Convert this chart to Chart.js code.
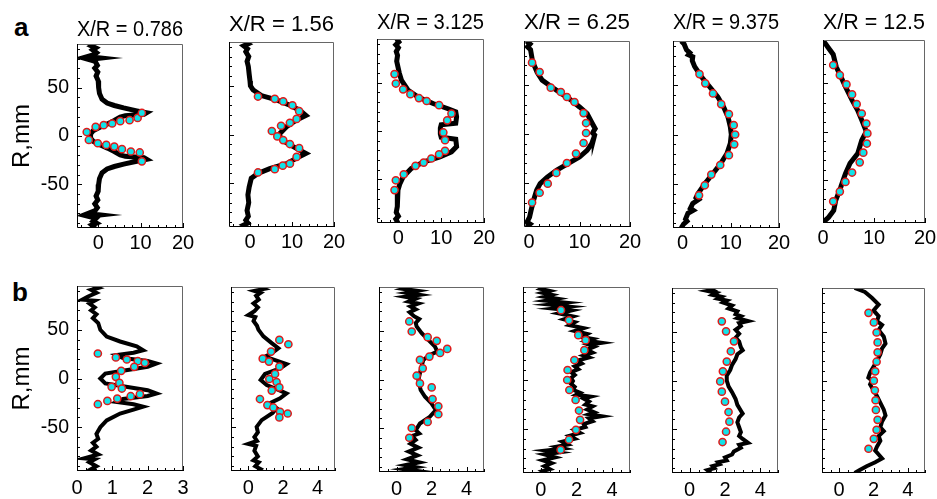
<!DOCTYPE html>
<html><head><meta charset="utf-8">
<script src="https://cdn.jsdelivr.net/npm/chart.js@4"></script>
<style>
html,body{margin:0;padding:0;background:#fff;width:937px;height:499px;overflow:hidden;position:relative;}
canvas{position:absolute;}
.lbl{position:absolute;font:bold 26px "Liberation Sans",Arial,sans-serif;line-height:26px;color:#000;}
</style></head><body>
<div class="lbl" style="left:14px;top:14px">a</div>
<div class="lbl" style="left:12px;top:279px">b</div>
<script>
// ---------- DATA ----------
const titles = ['X/R = 0.786','X/R = 1.56','X/R = 3.125','X/R = 6.25','X/R = 9.375','X/R = 12.5'];
const yTicks = [-50, 0, 50];
const xTicksTop = [0, 10, 20];
const xTicksB1 = [0, 1, 2, 3];
const xTicksBot = [0, 2, 4];

// row a : [x, R]
const lineA1 = [[-0.9,95],[-1.6,93],[-0.6,91],[-1.3,89],[-0.4,86],[-1.0,84],[-2.6,82],[0.6,80.5],[-2.3,79],[-0.7,77],[-0.2,73],[-0.8,70],[-0.1,66],[-0.5,62],[0,57],[0.1,50],[0.3,44],[0.9,38],[2.1,34],[3.8,31.5],[6,29],[9.1,26],[11.4,24],[10.8,22.5],[6.4,21],[5.2,19.5],[3.8,16],[2.2,12.5],[0.4,9],[-1.2,5.5],[-1.8,2],[-1.8,-2],[-1.2,-5.5],[0.4,-9],[2.2,-12.5],[3.8,-16],[5.2,-19.5],[6.4,-21],[10.8,-22.5],[11.4,-24],[9.1,-26],[6,-29],[3.8,-31.5],[2.1,-34],[0.9,-38],[0.3,-44],[0.1,-50],[0,-57],[-0.5,-62],[-0.1,-66],[-0.8,-70],[-0.2,-74],[-0.7,-77],[-2.4,-80],[0.6,-81.5],[-2.3,-83],[-0.5,-85],[-1.2,-88],[-0.4,-90],[-1.5,-92],[-0.7,-95]];
const dotsA1 = [[-2.7,4.1],[-0.6,9.5],[1.3,11.2],[3.3,12.9],[5.2,15.3],[7.4,16.3],[9.3,18.7],[10.3,23.8],[-2.2,-4.1],[-0.1,-7.5],[1.9,-9.2],[3.8,-10.9],[5.6,-13.6],[7.7,-16],[9.8,-17],[10.3,-26.2]];
const lineA2 = [[-1.3,95],[-0.5,93],[-1.5,91],[-0.6,88],[-1,85],[-0.3,80],[-0.7,75],[-0.4,70],[-0.2,62],[0,55],[0.1,50],[0.7,46],[2.7,40],[6.3,35.5],[9.5,30],[11.8,25],[13.3,19.5],[11.1,15],[8.7,8],[6.9,0],[7.7,-6],[10.3,-12.5],[13.3,-19.5],[11,-24.5],[8.7,-30],[4.7,-35],[1.9,-40],[0.3,-45],[-0.2,-54],[-0.5,-62],[-0.3,-70],[-0.7,-78],[-0.4,-84],[-1,-88],[-0.5,-91],[-1.5,-93],[-0.8,-95]];
const dotsA2 = [[1.9,39],[5.9,36.6],[7.9,34],[10.1,30],[11.7,24],[11.1,16],[9.5,12],[7.4,9],[5.2,3.6],[6.5,-2],[7.9,-5.7],[9.5,-9.8],[11.7,-14],[11.1,-23],[9.5,-30],[7.8,-32],[5.9,-35.6],[1.9,-39]];
const lineA3 = [[-0.4,95],[0.1,92],[-0.6,89],[0,86],[-0.5,82],[-0.2,78],[-0.4,72],[-0.1,66],[0.2,60],[0.7,52.6],[2.3,42],[4.6,35],[8.1,28.4],[11.6,23],[13.4,19.8],[13.6,14.6],[13.4,8],[10,6.5],[9.8,3],[9.8,-3],[10,-6.5],[13.4,-8.5],[13.6,-16],[12.4,-21.5],[9.7,-26.7],[5.8,-32],[3,-38.8],[1.1,-47.4],[0.3,-55],[-0.1,-61],[-0.3,-70],[-0.2,-78],[-0.5,-84],[0,-88],[-0.6,-91],[-0.1,-95]];
const dotsA3 = [[-0.9,58.8],[-0.6,49],[1.1,43],[2.8,38],[4.8,34],[6.6,31],[9.5,26.7],[12.4,18],[11.4,11],[10.5,-1.5],[10.9,-9.5],[10.9,-20.5],[9.5,-24],[7.7,-28.4],[5.9,-32.6],[4,-36],[1.25,-44.7],[-0.6,-50.9],[-0.9,-61]];
const lineA4 = [[-0.5,95],[0.2,92],[-0.3,89],[0.3,86],[0.5,80],[0.7,74],[1.6,63],[2.6,55],[4.5,48],[6.5,41],[8.5,34],[10,27.6],[11.5,20.8],[12.4,12],[13.1,5.4],[12.8,3],[12.6,1],[13,-1],[12.9,-3],[12.4,-10],[11.5,-16.7],[10,-23.5],[7.8,-30],[5.5,-37],[3.6,-44],[2.2,-50.7],[1.5,-57.5],[0.9,-67.7],[0.4,-78],[0.1,-85],[-0.4,-90],[0.2,-92],[-0.5,-95]];
const dotsA4 = [[0.6,72.9],[2.1,63.3],[4.3,47.3],[6.3,42.9],[7.5,37.8],[9,32.7],[10.8,21.4],[11.3,11.2],[11.3,1],[10.8,-9.2],[9.3,-20],[7.5,-29.6],[5.4,-39.8],[3.7,-50.7],[2.1,-60],[0.6,-70]];
const lineA5 = [[-0.3,95],[0.3,92],[0.8,86],[1.5,83],[1.2,81],[2.1,79],[2,75],[2.5,69],[3.9,58.7],[5.6,48.5],[7.3,38.3],[8.5,28],[9.4,18],[9.9,7.8],[10.1,0],[9.9,-9],[9.2,-19.3],[7.9,-29.5],[6.3,-39.7],[4.6,-50],[3.2,-60],[2.8,-64],[3.3,-66],[2.1,-70],[1.6,-75],[2.2,-77],[1.1,-80],[0.6,-86],[0.9,-88],[0.2,-91],[-0.3,-95]];
const dotsA5 = [[3.5,61.4],[4.7,52],[6.3,41.7],[8,30.9],[9.6,20.7],[10.6,9.5],[10.9,0],[10.7,-10],[9.6,-21],[7.8,-31],[5.95,-40.7],[4.6,-51.6],[3.4,-61.8]];
const lineA6 = [[0.1,94],[0.9,88],[2,80],[2.6,67],[3.5,57],[4.4,46.5],[5.7,32.6],[6.8,22],[7.6,11.8],[8.5,0],[7.6,-9],[6.8,-23],[5.3,-33],[4.4,-43.7],[3.5,-57.5],[2.5,-71.5],[2.1,-82],[1.1,-89],[0.1,-94]];
const dotsA6 = [[2,69],[3.3,58.6],[4.6,48.9],[5.7,38.5],[6.6,28.4],[7.6,18.7],[8.5,8.3],[8.7,-2],[8.6,-12.5],[7.9,-22],[7.2,-32],[5.7,-42.6],[4.4,-52.4],[3.3,-62.4],[2,-72.5]];

// row b : [x, R]
const lineB1 = [[0.45,95],[0.6,93],[0.4,91],[0.55,88],[0.3,84],[0.15,81],[0.5,80],[0.35,77],[0.5,73],[0.4,70],[0.55,66],[0.45,62],[0.6,57],[0.66,50],[0.84,43],[1.22,38],[1.69,33],[1.87,29],[1.6,26.5],[1.12,24],[1.3,21],[2.0,18],[2.25,15.4],[2.0,12],[1.3,8],[0.8,5],[0.66,0],[0.8,-5],[1.3,-8],[2.0,-12],[2.25,-15.4],[2.0,-18],[1.3,-21],[1.12,-24],[1.6,-26.5],[1.87,-29],[1.6,-32],[1.22,-36],[0.84,-43],[0.66,-50],[0.55,-57],[0.6,-62],[0.45,-66],[0.55,-70],[0.4,-74],[0.6,-78],[0.2,-82],[0.5,-83],[0.35,-86],[0.55,-90],[0.4,-93],[0.55,-95]];
const dotsB1 = [[0.59,25.7],[1.1,21.6],[1.41,19.5],[1.72,17.8],[1.92,16.1],[1.62,12],[1.25,7.9],[1.1,1.7],[1.2,-4.5],[0.98,-8.6],[1.27,-10.3],[1.78,-16.1],[1.52,-18.2],[1.14,-20.6],[0.86,-23],[0.59,-26.4]];
const lineB2 = [[0.6,95],[0.9,93],[0.35,91],[0.7,89],[0.45,86],[0.6,82],[0.3,78],[0.55,74],[0.35,70],[0.0,66],[0.4,64],[0.3,60],[0.5,55],[0.58,51],[0.87,44],[1.35,37],[1.73,31.8],[1.35,26.6],[0.96,23],[1.63,19],[2.2,15.5],[1.83,11],[0.96,5.2],[0.71,-1],[1.06,-6.2],[1.7,-11],[2.2,-14.9],[1.83,-20],[1.25,-25],[1.63,-30],[1.4,-35],[0.77,-42.5],[0.48,-49.4],[0.55,-55],[0.35,-60],[0.5,-64],[0.0,-67],[0.45,-69],[0.35,-74],[0.55,-80],[0.3,-84],[0.6,-86],[0.4,-90],[0.7,-93],[0.55,-95]];
const dotsB2 = [[1.79,40.4],[2.31,35.9],[1.31,28.3],[0.83,21],[1.19,18],[1.79,12.8],[1.54,5.2],[1.21,0],[1.63,-3.1],[1.79,-8.6],[1.35,-12],[0.67,-20.7],[1.1,-26.9],[1.44,-29.4],[1.83,-33.9],[2.27,-35.6],[1.79,-39.7]];
const lineB3 = [[0.8,95],[0.4,93],[1.2,91],[0.6,89],[1.3,87],[0.5,85],[1.1,83],[0.7,80],[1.25,78],[0.8,75],[1.1,72],[0.75,69],[1.0,65],[1.3,62],[1.1,58],[1.15,54.5],[1.44,47.6],[1.82,40.7],[2.2,33.8],[2.33,28.7],[1.91,25.3],[1.53,20],[1.38,9.8],[1.25,-0.5],[1.38,-10.8],[1.63,-17.7],[2.0,-24.6],[2.25,-31.4],[1.9,-38.3],[1.34,-45.2],[1.1,-52],[1.3,-55.5],[0.9,-58],[1.1,-62],[0.8,-66],[1.25,-70],[0.7,-74],[1.2,-78],[0.6,-82],[1.3,-85],[0.5,-88],[1.1,-90],[0.4,-92],[1.2,-94],[0.8,-95]];
const dotsB3 = [[0.73,59.6],[0.87,49.3],[1.78,43.5],[2.3,39.7],[2.9,31.4],[2.49,27.3],[1.88,23.5],[1.34,20.1],[1.5,11.5],[1.15,3.9],[1.34,-4],[2.01,-8.1],[2.06,-20.1],[2.39,-27.5],[2.39,-35.7],[1.78,-43.6],[0.87,-49.8],[0.73,-59.8]];
const lineB4 = [[0.2,95],[0.0,93],[0.5,91],[0.1,89],[0.6,87],[0.2,85],[0.9,83],[0.3,81],[1.4,79],[0.5,77],[1.6,75],[0.7,73],[1.7,71],[1.0,68],[1.8,65],[1.3,62],[1.9,59],[1.6,56],[2.4,53],[1.9,50],[2.6,47],[2.3,44],[2.9,42],[2.6,40],[3.4,38],[2.7,36],[3.0,34],[2.6,31],[2.9,28],[2.4,25],[2.7,23],[2.1,20],[2.3,17],[1.9,14],[2.1,11],[1.7,8],[1.9,5],[1.7,2],[1.8,-1],[1.7,-4],[1.9,-7],[1.8,-10],[2.2,-13],[2.0,-15],[2.8,-17],[2.4,-19],[2.7,-22],[2.5,-25],[2.9,-27],[2.6,-30],[3.0,-33],[2.7,-35],[3.4,-37],[2.7,-39],[2.9,-42],[2.4,-45],[2.5,-48],[1.9,-51],[2.2,-54],[1.6,-57],[1.9,-60],[1.2,-63],[1.5,-66],[0.9,-68],[1.3,-70],[0.3,-72],[1.0,-74],[0.2,-76],[0.8,-79],[0.1,-82],[0.6,-85],[0.2,-88],[0.5,-91],[0.1,-93],[0.3,-95]];
const dotsB4 = [[1.13,71.3],[1.58,61],[2.1,45.8],[2.51,40.7],[2.44,30.5],[1.88,20.4],[1.5,10.2],[1.48,0],[1.6,-10.2],[1.95,-20.4],[2.14,-31.2],[2.2,-40.7],[1.97,-50.9],[1.58,-61],[1.11,-71.3]];
const lineB5 = [[1.1,95],[1.3,93],[1.0,92],[1.5,90],[1.3,88],[1.8,86],[1.6,84],[2.1,82],[1.9,80],[2.4,77],[2.2,74],[2.7,71],[2.6,68],[2.9,66],[2.7,64],[3.3,61],[2.8,59],[2.9,56],[2.6,52],[2.8,48],[2.6,44],[2.8,40],[2.9,34],[3.0,31],[2.7,27],[2.6,22],[2.4,16],[2.3,11],[2.1,5],[2.1,0],[2.2,-6],[2.4,-12],[2.6,-19],[2.7,-25],[2.9,-31],[3.0,-34],[2.8,-38],[2.7,-43],[2.8,-48],[2.9,-53],[2.8,-57],[3.0,-60],[3.3,-64],[2.8,-66],[2.9,-69],[2.5,-73],[2.4,-76],[2.0,-79],[2.1,-82],[1.6,-84],[1.7,-86],[1.3,-88],[1.4,-90],[1.0,-92],[1.2,-95]];
const dotsB5 = [[1.82,60.8],[2.06,50.5],[2.51,40.2],[2.33,30],[2.1,19.4],[1.88,9.4],[1.73,-0.9],[1.82,-11.5],[2,-21.7],[2.2,-32.4],[2.25,-42.3],[2.06,-52.6],[1.86,-63.2]];
const lineB6 = [[0.9,95],[1.5,91],[1.9,85],[2.3,78],[2.0,72],[2.3,66],[2.2,61],[2.5,57],[2.3,52],[2.6,45],[2.7,38],[2.5,33],[2.4,27],[2.2,20],[2.0,14],[1.8,8],[1.7,3],[1.9,0],[1.8,-4],[2.0,-10],[2.2,-16],[2.4,-23],[2.6,-30],[2.7,-36],[2.5,-42],[2.4,-48],[2.6,-52],[2.3,-57],[2.4,-62],[2.2,-68],[2.1,-72],[2.3,-76],[2.5,-80],[2.1,-84],[1.6,-88],[1.2,-92],[0.9,-95]];
const dotsB6 = [[1.71,69.5],[2.02,59.6],[2.18,49.3],[2.24,39.1],[2.24,28.9],[2.18,19.3],[2.1,9.4],[2.02,-0.2],[2.08,-10.1],[2.12,-20.3],[2.14,-30.2],[2.24,-40.4],[2.18,-50.7],[2.02,-59.9],[1.71,-70.1]];

// ---------- LAYOUT (positions / styles only) ----------
const FONT = '"Liberation Sans", Arial, Helvetica, sans-serif';
Chart.defaults.font.family = FONT;
Chart.defaults.color = '#000';
const CYAN = '#12e2e8', RED = '#e01a1a';
const TITLE_SIZE = 22.5, TITLE_LH = TITLE_SIZE * 1.2;

const panels = [
  {row:0,col:0,box:[77,44,183,228], xr:[-5,20], minor:2, ticks:xTicksTop, title:titles[0], tcy:29, line:lineA1, dots:dotsA1},
  {row:0,col:1,box:[229,42,334,227], xr:[-5,20], minor:2, ticks:xTicksTop, title:titles[1], tcy:24, line:lineA2, dots:dotsA2},
  {row:0,col:2,box:[377,39,484,223], xr:[-5,20], minor:2, ticks:xTicksTop, title:titles[2], tcy:22, line:lineA3, dots:dotsA3},
  {row:0,col:3,box:[524,41,630,227], xr:[-1,20], minor:2, ticks:xTicksTop, title:titles[3], tcy:22, line:lineA4, dots:dotsA4},
  {row:0,col:4,box:[673,41,779,228], xr:[-2,20], minor:2, ticks:xTicksTop, title:titles[4], tcy:22, line:lineA5, dots:dotsA5},
  {row:0,col:5,box:[823,40,925,223], xr:[0,20], minor:2, ticks:xTicksTop, title:titles[5], tcy:22, line:lineA6, dots:dotsA6},
  {row:1,col:0,box:[77,286,183,471], xr:[0,3], minor:0.25, ticks:xTicksB1, line:lineB1, dots:dotsB1},
  {row:1,col:1,box:[231,287,335,471], xr:[-1,5], minor:0.5, ticks:xTicksBot, line:lineB2, dots:dotsB2},
  {row:1,col:2,box:[379,287,484,472], xr:[-1,5], minor:0.5, ticks:xTicksBot, line:lineB3, dots:dotsB3},
  {row:1,col:3,box:[523,287,630,473], xr:[-1,5], minor:0.5, ticks:xTicksBot, line:lineB4, dots:dotsB4},
  {row:1,col:4,box:[672,288,778,473], xr:[-1,5], minor:0.5, ticks:xTicksBot, line:lineB5, dots:dotsB5},
  {row:1,col:5,box:[822,288,925,473], xr:[-1,5], minor:0.5, ticks:xTicksBot, line:lineB6, dots:dotsB6}
];

const framePlugin = {
  id: 'frame',
  afterDatasetsDraw(chart, args, opts) {
    const {ctx, chartArea: a, scales: {x, y}} = chart;
    ctx.save();
    ctx.lineWidth = 1;
    ctx.strokeStyle = '#000';
    ctx.beginPath();
    const step = opts.minor;
    for (let k = Math.ceil(x.min / step - 1e-9); k * step <= x.max + 1e-9; k++) {
      const v = k * step;
      const major = opts.major.some(m => Math.abs(m - v) < 1e-6);
      const px = Math.round(x.getPixelForValue(v)) + 0.5;
      ctx.moveTo(px, a.bottom);
      ctx.lineTo(px, a.bottom - (major ? 5 : 3));
    }
    for (let v = -90; v <= 90; v += 10) {
      const major = v % 50 === 0;
      const py = Math.round(y.getPixelForValue(v)) + 0.5;
      ctx.moveTo(a.left, py);
      ctx.lineTo(a.left + (major ? 5 : 3), py);
    }
    ctx.stroke();
    ctx.beginPath();
    ctx.strokeStyle = '#666';
    ctx.moveTo(a.left, a.top + 0.5);
    ctx.lineTo(a.right - 0.5, a.top + 0.5);
    ctx.lineTo(a.right - 0.5, a.bottom);
    ctx.stroke();
    ctx.beginPath();
    ctx.strokeStyle = '#000';
    ctx.moveTo(a.left + 0.5, a.top);
    ctx.lineTo(a.left + 0.5, a.bottom - 0.5);
    ctx.lineTo(a.right, a.bottom - 0.5);
    ctx.stroke();
    ctx.restore();
  }
};

function makePanel(p) {
  const [L, T, R, B] = p.box;
  const padL = p.col === 0 ? 70 : 14, padR = 16, padB = 32;
  let canvasTop, titleOpt, layoutTop;
  if (p.title) {
    canvasTop = Math.round(p.tcy - TITLE_LH / 2);
    titleOpt = {display: true, text: p.title, fullSize: false, color: '#000',
      font: {size: TITLE_SIZE, weight: 'normal', lineHeight: 1.2},
      padding: {top: 0, bottom: (T - canvasTop) - TITLE_LH}};
    layoutTop = 0;
  } else {
    canvasTop = T - 24;
    titleOpt = {display: false};
    layoutTop = 24;
  }
  const w = padL + (R - L) + padR;
  const h = (T - canvasTop) + (B - T) + padB;
  const cv = document.createElement('canvas');
  cv.width = w; cv.height = h;
  cv.style.left = (L - padL) + 'px';
  cv.style.top = canvasTop + 'px';
  cv.style.width = w + 'px';
  cv.style.height = h + 'px';
  document.body.appendChild(cv);
  new Chart(cv, {
    type: 'scatter',
    data: {datasets: [
      {data: p.dots.map(([x, y]) => ({x, y})), showLine: false,
       pointRadius: 3.6, pointBorderWidth: 1.5,
       pointBackgroundColor: CYAN, pointBorderColor: RED},
      {data: p.line.map(([x, y]) => ({x, y})), showLine: true,
       borderColor: '#000', borderWidth: p.row === 0 ? 5 : 4, pointRadius: 0,
       tension: 0, clip: 0, borderJoinStyle: 'miter', borderCapStyle: 'butt'}
    ]},
    options: {
      responsive: false, animation: false, events: [], devicePixelRatio: 1,
      layout: {padding: {top: layoutTop, right: padR, left: 0, bottom: 0}},
      plugins: {legend: {display: false}, tooltip: {enabled: false}, title: titleOpt,
                frame: {minor: p.minor, major: p.ticks}},
      scales: {
        x: {type: 'linear', min: p.xr[0], max: p.xr[1],
            grid: {display: false, drawTicks: false}, border: {display: false},
            ticks: {font: {size: 20}, padding: p.row === 0 ? 3 : 5, maxRotation: 0, autoSkip: false, color: '#000'},
            afterBuildTicks: s => { s.ticks = p.ticks.map(v => ({value: v})); },
            afterFit: s => { s.height = padB; }},
        y: {type: 'linear', min: -95, max: 95,
            grid: {display: false, drawTicks: false}, border: {display: false},
            ticks: {display: p.col === 0, font: {size: 19.5}, padding: 8, color: '#000'},
            afterBuildTicks: s => { s.ticks = yTicks.map(v => ({value: v})); },
            afterFit: s => { s.width = padL; },
            title: {display: p.col === 0, text: 'R,mm', color: '#000',
                    font: {size: 24}, padding: {top: 1, bottom: 0}}}
      }
    },
    plugins: [framePlugin]
  });
}
panels.forEach(makePanel);
</script>
</body></html>
